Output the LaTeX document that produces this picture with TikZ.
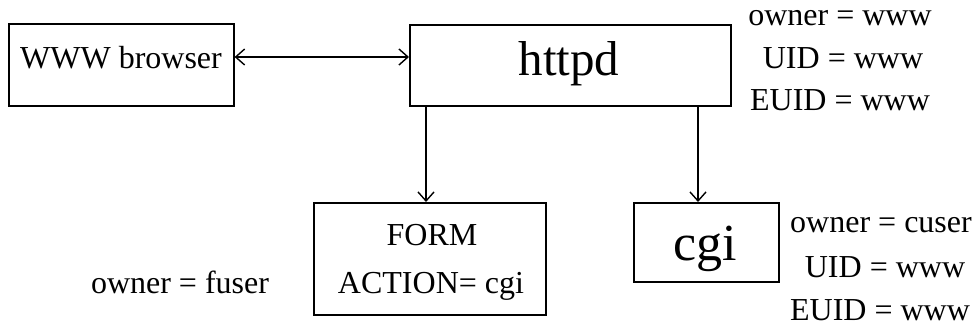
\documentclass[tikz,border=0pt]{standalone}
\usepackage{fontspec}
\setmainfont{Liberation Serif}
\usetikzlibrary{arrows.meta}
\begin{document}
\begin{tikzpicture}[x=1pt,y=-1pt,
  box/.style={draw, line width=1.6pt, inner sep=0pt, anchor=north west},
  lbl/.style={anchor=base, inner sep=0pt, font=\fontsize{32}{38}\selectfont},
  big/.style={anchor=base, inner sep=0pt, font=\fontsize{49}{57}\selectfont},
  arr/.style={line width=1.4pt, -{Straight Barb[length=9pt,width=16pt,line width=1.4pt]}},
  darr/.style={line width=1.4pt, {Straight Barb[length=9pt,width=16pt,line width=1.4pt]}-{Straight Barb[length=9pt,width=16pt,line width=1.4pt]}}]
\useasboundingbox (0,0) rectangle (979,333);

% boxes
\node[box, minimum width=225pt, minimum height=82pt] (browser) at (8,23) {};
\node[box, minimum width=321pt, minimum height=81pt] (httpd) at (409,24) {};
\node[box, minimum width=232pt, minimum height=112pt] (form) at (313,202) {};
\node[box, minimum width=145pt, minimum height=79pt] (cgi) at (633,202) {};

% box texts
\node[lbl] (browsertxt) at (121,68) {WWW browser};
\node[big] (httpdtxt) at (569,75) {httpd};
\node[lbl] (formtxt) at (432,245) {FORM};
\node[lbl] (actiontxt) at (431,293) {ACTION= cgi};
\node[big, font=\fontsize{52}{60}\selectfont] (cgitxt) at (705,260) {cgi};

% process attributes
\node[lbl] (ownfuser) at (180,293) {owner = fuser};
\node[lbl] (ownwww) at (840,25) {owner = www};
\node[lbl] (uidwww) at (843,68) {UID = www};
\node[lbl] (euidwww) at (840,110) {EUID = www};
\node[lbl] (owncuser) at (881,232) {owner = cuser};
\node[lbl] (uidcgi) at (885,277) {UID = www};
\node[lbl] (euidcgi) at (880,320) {EUID = www};

% connectors
\draw[darr] (browser.east |- 0,57) -- (httpd.west |- 0,57);
\draw[arr] (httpd.south -| 426,0) -- (form.north -| 426,0);
\draw[arr] (httpd.south -| 698,0) -- (cgi.north -| 698,0);
\end{tikzpicture}
\end{document}
